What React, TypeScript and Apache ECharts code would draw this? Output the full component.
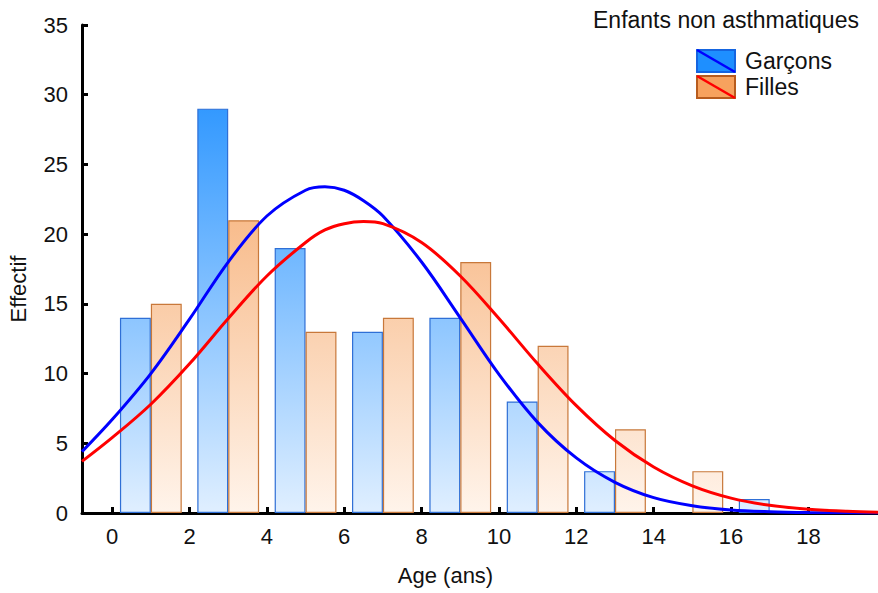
import React, { useEffect, useRef } from "react";
import * as echarts from "echarts";

// Histogram bins (start of each 2-year bin)
const binStarts = [0, 2, 4, 6, 8, 10, 12, 14, 16];
const garcons = [14, 29, 19, 13, 14, 8, 3, 0, 1];
const filles = [15, 21, 13, 14, 18, 12, 6, 3, 0];

// Fitted curves
const curveX = [-0.78, 0, 1, 2, 3, 4, 5, 5.5, 6, 6.5, 7, 8, 9, 10, 11, 12, 13, 14, 15, 16, 17, 18, 19, 19.8];
const curveGarcons = [4.4, 6.7, 10.0, 13.9, 18.0, 21.3, 23.15, 23.4, 23.15, 22.4, 21.3, 18.0, 14.0, 9.95, 6.5, 3.95, 2.2, 1.1, 0.52, 0.22, 0.09, 0.03, 0.01, 0.0];
const curveFilles = [3.7, 5.4, 7.8, 10.7, 13.95, 17.0, 19.4, 20.3, 20.75, 20.9, 20.75, 19.4, 17.0, 13.95, 10.7, 7.7, 5.2, 3.3, 1.95, 1.07, 0.55, 0.27, 0.12, 0.06];

const xTicks = [0, 2, 4, 6, 8, 10, 12, 14, 16, 18];

const FONT = "'Liberation Sans', Arial, sans-serif";

export default function App() {
  const ref = useRef<HTMLDivElement>(null);
  useEffect(() => {
    if (!ref.current) return;
    const chart = echarts.init(ref.current, null, { renderer: "svg" });
    const binCenters = binStarts.map((b) => b + 1);
    const blueGrad = {
      type: "linear", x: 0, y: 513, x2: 0, y2: 109, global: true,
      colorStops: [{ offset: 0, color: "#E0EFFF" }, { offset: 1, color: "#3399FF" }],
    };
    const orangeGrad = {
      type: "linear", x: 0, y: 513, x2: 0, y2: 220, global: true,
      colorStops: [{ offset: 0, color: "#FFF4EB" }, { offset: 1, color: "#F8BC8C" }],
    };
    const option: any = {
      animation: false,
      backgroundColor: "#ffffff",
      textStyle: { fontFamily: FONT },
      grid: { left: 82, top: 25, right: 0, bottom: 80, containLabel: false },
      xAxis: {
        type: "value",
        min: -0.78,
        max: 19.8,
        splitLine: { show: false },
        axisLine: { show: true, onZero: false, lineStyle: { color: "#000", width: 3 } },
        axisTick: { show: true, inside: true, length: 6, customValues: xTicks, lineStyle: { color: "#000", width: 3 } },
        axisLabel: { customValues: xTicks, color: "#111", fontSize: 22, margin: 12, fontFamily: FONT },
      },
      yAxis: {
        type: "value",
        min: 0,
        max: 35,
        interval: 5,
        splitLine: { show: false },
        axisLine: { show: true, onZero: false, lineStyle: { color: "#000", width: 3 } },
        axisTick: { show: true, inside: true, length: 6, lineStyle: { color: "#000", width: 3 } },
        axisLabel: { color: "#111", fontSize: 22, margin: 14, fontFamily: FONT },
      },
      series: [
        {
          type: "bar",
          name: "Garçons",
          data: binCenters.map((c, i) => [c, garcons[i] === 0 ? null : garcons[i]]),
          barWidth: 30.9,
          barGap: "0%",
          itemStyle: { color: blueGrad, borderColor: "#2F6FD6", borderWidth: 1.2 },
          z: 2,
        },
        {
          type: "bar",
          name: "Filles",
          data: binCenters.map((c, i) => [c, filles[i] === 0 ? null : filles[i]]),
          barWidth: 30.9,
          barGap: "0%",
          itemStyle: { color: orangeGrad, borderColor: "#C8783A", borderWidth: 1.2 },
          z: 2,
        },
        {
          type: "line",
          data: curveX.map((x, i) => [x, curveGarcons[i]]),
          smooth: 0.35,
          showSymbol: false,
          lineStyle: { color: "#0000FF", width: 3 },
          z: 4,
        },
        {
          type: "line",
          data: curveX.map((x, i) => [x, curveFilles[i]]),
          smooth: 0.35,
          showSymbol: false,
          lineStyle: { color: "#FF0000", width: 3 },
          z: 4,
        },
      ],
      graphic: [
        { type: "text", x: 593, y: 20, style: { text: "Enfants non asthmatiques", fontSize: 23, fontFamily: FONT, fill: "#111", verticalAlign: "middle" } },
        { type: "rect", shape: { x: 697, y: 50, width: 38, height: 22 }, style: { fill: "#1E8FFF", stroke: "#1565E0", lineWidth: 2 } },
        { type: "line", shape: { x1: 697, y1: 50, x2: 735, y2: 72 }, style: { stroke: "#0000FF", lineWidth: 2.5 } },
        { type: "rect", shape: { x: 697, y: 76, width: 38, height: 22 }, style: { fill: "#F7A25E", stroke: "#B85C1E", lineWidth: 2 } },
        { type: "line", shape: { x1: 697, y1: 76, x2: 735, y2: 98 }, style: { stroke: "#FF0000", lineWidth: 2.5 } },
        { type: "text", x: 745, y: 61, style: { text: "Garçons", fontSize: 23, fontFamily: FONT, fill: "#111", verticalAlign: "middle" } },
        { type: "text", x: 745, y: 87, style: { text: "Filles", fontSize: 23, fontFamily: FONT, fill: "#111", verticalAlign: "middle" } },
        { type: "text", x: 445.5, y: 575, style: { text: "Age (ans)", fontSize: 22, fontFamily: FONT, fill: "#111", align: "center", verticalAlign: "middle" } },
        { type: "text", x: 18, y: 289, rotation: Math.PI / 2, style: { text: "Effectif", fontSize: 22, fontFamily: FONT, fill: "#111", align: "center", verticalAlign: "middle" } },
      ],
    };
    chart.setOption(option);
    return () => chart.dispose();
  }, []);
  return <div ref={ref} style={{ position: "fixed", left: 0, top: 0, width: 878, height: 593 }} />;
}
